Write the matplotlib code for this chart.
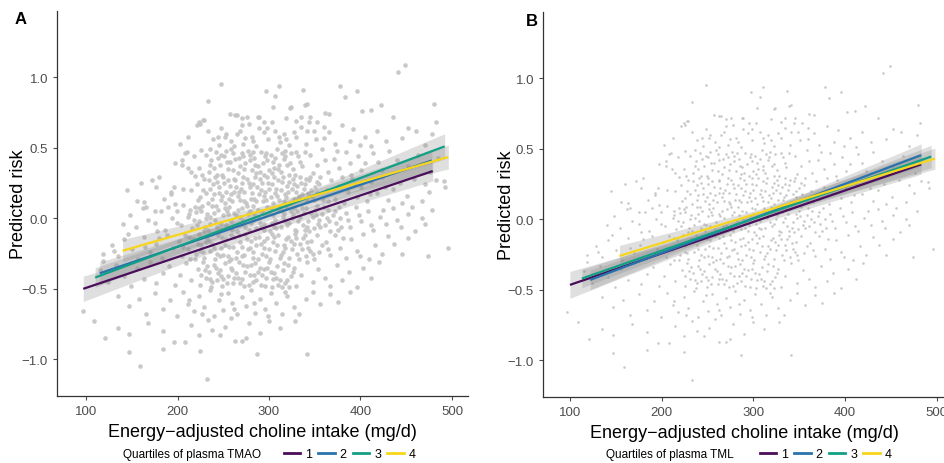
import matplotlib
matplotlib.use("Agg")
import matplotlib.pyplot as plt
from matplotlib.lines import Line2D

plt.rcParams['font.family'] = ['Liberation Sans', 'DejaVu Sans']

# ---- scatter data: (energy-adjusted choline intake, predicted risk) ----
scatter_points = [
    (248,.95),(311,.94),(297,.90),(337,.91),(378,.94),(396,.90),(441,1.04),(449,1.09),(307,.87),
    (233,.83),(304,.79),(324,.79),(341,.81),(383,.86),(422,.80),(411,.77),(480,.81),(323,.78),(339,.80),
    (257,.74),(263,.73),(270,.71),(276,.72),(289,.72),(319,.71),(345,.72),(361,.75),(288,.72),(228,.70),
    (366,.74),(402,.76),(436,.72),(265,.73),
    (225,.67),(482,.68),(452,.64),(461,.62),(221,.66),(270,.66),(278,.67),(295,.68),(303,.685),(330,.69),
    (335,.715),(353,.68),(252,.58),(239,.56),(265,.595),(281,.58),(289,.64),(294,.61),(307,.62),(316,.60),
    (327,.61),(335,.645),(341,.62),(351,.56),(360,.57),(366,.61),(224,.68),(229,.70),(210,.47),(226,.485),
    (380,.66),(392,.63),(405,.58),(418,.62),(428,.55),(445,.57),(470,.52),(478,.60),(372,.53),(388,.55),
    (399,.52),(412,.51),(245,.52),(258,.55),(272,.53),(286,.51),(299,.56),(312,.54),(322,.52),(340,.53),
    (233,.62),(248,.64),(212,.58),(203,.53),(360,.65),(344,.68),
    (253,.60),(268,.62),(283,.55),(298,.64),(311,.58),(274,.57),(262,.51),(244,.58),(319,.56),(330,.58),
    (349,.62),
    (197,.39),(205,.41),(205,.38),(211,.36),(215,.33),(219,.30),
    (231,.45),(237,.41),(242,.47),(246,.38),(251,.44),(255,.35),(259,.49),(263,.42),(266,.32),(270,.46),
    (274,.39),(277,.48),(281,.34),(284,.43),(288,.37),(291,.47),(295,.31),(298,.41),(302,.45),(305,.36),
    (309,.49),(313,.33),(316,.42),(320,.38),(324,.46),(328,.31),(332,.44),(336,.37),
    (234,.33),(240,.36),(249,.31),(257,.40),(261,.46),(268,.37),(279,.41),(286,.32),(293,.39),(300,.34),
    (307,.43),(311,.38),(318,.48),(326,.35),(334,.40),(339,.47),
    (244,.43),(253,.48),(272,.44),(282,.47),(296,.44),(303,.32),(314,.46),(322,.31),
    (236,.38),(243,.31),(248,.45),(254,.40),(261,.34),(267,.43),(273,.35),(279,.45),(285,.38),(290,.33),
    (297,.46),(304,.40),(310,.35),(317,.44),(323,.39),(330,.47),
    (345,.45),(352,.38),(358,.49),(364,.33),(371,.42),(377,.36),(384,.47),(390,.31),(397,.44),(405,.39),
    (414,.46),(423,.34),(431,.48),(440,.41),(452,.37),(463,.45),(476,.33),(485,.43),(348,.32),(361,.41),
    (374,.48),(388,.39),(401,.34),(419,.40),(218,.44),(224,.36),(208,.46),(236,.49),(227,.31),
    (156,.12),(163,.115),(166,.08),(177,.22),(196,.225),(193,.19),(193,.17),(206,.21),(215,.20),(197,.10),
    (206,.095),(145,.20),(172,.27),(185,.14),(180,.29),(160,.25),
    (221,.24),(225,.15),(229,.28),(233,.11),(236,.21),(240,.17),(243,.26),(247,.13),(250,.29),(253,.19),
    (257,.23),(260,.12),(263,.27),(266,.16),(269,.21),(272,.29),(275,.11),(278,.25),(281,.18),(284,.14),
    (287,.22),(290,.28),(293,.12),(296,.19),(299,.25),(302,.15),(305,.29),(308,.21),(311,.13),(314,.26),
    (317,.17),(320,.23),(323,.11),(326,.28),(329,.19),(332,.14),(335,.25),(338,.21),(341,.12),(344,.27),
    (347,.16),(350,.22),(353,.18),(356,.29),(359,.13),
    (222,.13),(228,.20),(234,.27),(238,.14),(245,.22),(249,.16),(255,.27),(258,.17),(264,.22),(268,.13),
    (273,.19),(276,.28),(283,.24),(286,.12),(292,.25),(295,.16),(300,.21),(304,.11),(310,.27),(313,.20),
    (319,.15),(322,.26),(327,.14),(331,.23),(336,.17),(340,.28),(346,.20),(349,.13),(355,.24),
    (231,.18),(241,.29),(252,.11),(262,.19),(271,.25),(280,.14),(289,.17),(298,.29),(307,.18),(316,.12),
    (325,.21),(334,.29),(343,.18),(352,.26),
    (239,.24),(245,.18),(251,.25),(256,.14),(262,.28),(267,.19),(273,.12),(279,.22),(285,.29),(291,.20),
    (297,.13),(303,.24),(309,.16),(315,.29),(321,.19),(327,.24),(333,.16),(339,.24),(345,.29),
    (363,.20),(368,.27),(372,.14),(377,.23),(382,.11),(386,.19),(391,.28),(396,.15),(401,.22),(407,.12),
    (412,.26),(418,.18),(424,.29),(430,.13),(436,.21),(443,.25),(451,.16),(459,.28),(467,.12),(475,.19),
    (483,.27),(491,.265),(492,.225),(365,.12),(380,.29),(394,.24),(410,.17),(427,.22),(445,.11),(470,.24),
    (175,.05),(182,.05),(199,.05),(175,-.03),(213,.03),(220,.045),(194,.00),(199,-.03),(148,.02),(155,-.06),
    (162,.07),(168,-.01),(186,-.08),(190,.08),(204,-.05),(140,-.04),(178,-.09),
    (212,.01),(216,-.07),(219,.08),(223,-.02),(226,.05),(229,-.09),(232,.03),(235,-.04),(238,.09),(241,-.01),
    (244,.06),(247,-.08),(250,.02),(253,-.05),(256,.08),(259,-.02),(262,.04),(265,-.09),(268,.01),(271,.07),
    (274,-.06),(277,.03),(280,-.03),(283,.09),(286,-.07),(289,.00),(292,.05),(295,-.04),(298,.08),(301,-.09),
    (304,.02),(307,-.01),(310,.06),(313,-.06),(316,.03),(319,.09),(322,-.03),(325,.00),(328,-.08),(331,.05),
    (334,.01),(337,-.05),(340,.07),(343,-.02),(346,.04),(349,-.07),(352,.09),(355,-.01),(358,.03),(361,-.05),
    (364,.06),(367,-.09),(370,.02),(373,-.03),(376,.08),(379,-.06),
    (214,.06),(221,-.05),(227,.09),(233,-.08),(240,.04),(246,-.03),(252,.07),(258,-.07),(264,.02),(270,-.04),
    (276,.09),(282,-.01),(288,.06),(294,-.08),(300,.04),(306,-.06),(312,.08),(318,-.02),(324,.05),(330,-.09),
    (336,.07),(342,-.06),(348,.01),(354,-.04),(360,.08),(366,-.02),(372,.05),(378,.00),
    (218,-.01),(231,.00),(243,-.06),(255,.03),(267,-.05),(279,.05),(291,-.06),(303,-.03),(315,.01),(327,.07),
    (339,-.08),(351,.02),(363,.00),(375,-.08),
    (224,.07),(230,-.06),(236,.01),(242,.09),(248,-.04),(254,.05),(260,-.08),(266,.06),(272,-.02),(278,-.08),
    (284,.03),(290,-.03),(296,.02),(302,.07),(308,-.07),(314,.05),(320,-.05),(326,.03),(332,-.02),(338,.04),
    (344,-.09),(350,.06),(356,-.06),
    (384,.04),(389,-.06),(395,.08),(401,-.02),(408,.05),(414,-.08),(421,.01),(428,-.04),(436,.07),(444,-.06),
    (452,.03),(460,-.09),(470,-.04),(467,.00),(478,.06),(386,-.01),(398,.02),(411,-.05),(425,.06),(440,-.01),
    (456,.08),
    (119,-.255),(119,-.305),(128,-.19),(135,-.27),(142,-.15),(150,-.22),(157,-.29),(163,-.13),(170,-.24),
    (176,-.18),(183,-.28),(189,-.12),(195,-.21),(146,-.11),(131,-.23),(165,-.20),(180,-.14),
    (202,-.16),(205,-.27),(208,-.12),(211,-.22),(214,-.29),(217,-.15),(220,-.25),(223,-.11),(226,-.19),
    (229,-.28),(232,-.14),(235,-.23),(238,-.18),(241,-.29),(244,-.12),(247,-.21),(250,-.26),(253,-.15),
    (256,-.20),(259,-.29),(262,-.13),(265,-.24),(268,-.17),(271,-.27),(274,-.11),(277,-.22),(280,-.16),
    (283,-.28),(286,-.19),(289,-.13),(292,-.25),(295,-.21),(298,-.14),(301,-.29),(304,-.17),(307,-.23),
    (310,-.12),(313,-.26),(316,-.19),(319,-.15),(322,-.28),(325,-.22),(328,-.11),(331,-.25),(334,-.18),
    (337,-.14),(340,-.27),(343,-.21),(346,-.16),(349,-.29),(352,-.12),(355,-.24),(358,-.19),
    (206,-.20),(213,-.13),(219,-.29),(225,-.23),(231,-.17),(237,-.11),(243,-.25),(249,-.14),(255,-.27),
    (261,-.20),(267,-.12),(273,-.26),(279,-.21),(285,-.14),(291,-.18),(297,-.27),(303,-.11),(309,-.19),
    (315,-.24),(321,-.13),(327,-.18),(333,-.29),(339,-.12),(345,-.23),
    (222,-.18),(228,-.24),(234,-.16),(240,-.21),(246,-.27),(252,-.19),(258,-.12),(264,-.28),(270,-.20),
    (276,-.15),(282,-.24),(288,-.29),(294,-.16),(300,-.22),(306,-.13),(312,-.28),(318,-.21),(324,-.16),
    (330,-.14),(336,-.22),(342,-.17),(348,-.25),
    (362,-.17),(367,-.26),(372,-.12),(378,-.21),(384,-.28),(390,-.15),(396,-.23),(403,-.11),(409,-.29),
    (416,-.19),(423,-.25),(430,-.125),(437,-.18),(445,-.255),(452,-.14),(474,-.27),(496,-.21),(365,-.22),
    (381,-.14),(399,-.27),
    (115,-.37),(124,-.45),(133,-.33),(141,-.41),(149,-.48),(156,-.35),(163,-.43),(170,-.31),(177,-.46),
    (184,-.39),(191,-.34),(197,-.47),(203,-.40),(209,-.32),(215,-.44),
    (222,-.36),(225,-.47),(228,-.31),(231,-.42),(234,-.38),(237,-.49),(240,-.33),(243,-.44),(246,-.37),
    (249,-.48),(252,-.32),(255,-.41),(258,-.35),(261,-.46),(264,-.39),(267,-.31),(270,-.43),(273,-.48),
    (276,-.34),(279,-.40),(282,-.45),(285,-.32),(288,-.38),(291,-.47),(294,-.36),(297,-.42),(300,-.31),
    (303,-.49),(306,-.39),(309,-.34),(312,-.44),(315,-.37),(318,-.46),(321,-.33),(324,-.41),(327,-.35),
    (330,-.48),
    (226,-.40),(232,-.34),(238,-.45),(244,-.39),(250,-.43),(256,-.30),(262,-.42),(268,-.46),(274,-.38),
    (280,-.33),(286,-.44),(292,-.40),(298,-.35),(304,-.43),(310,-.47),(316,-.32),(322,-.49),
    (230,-.37),(236,-.43),(242,-.35),(248,-.41),(254,-.46),(260,-.37),(266,-.42),(272,-.33),(278,-.47),
    (284,-.40),(290,-.35),(296,-.48),(302,-.38),(308,-.42),(314,-.49),(320,-.44),(326,-.38),
    (335,-.40),(341,-.31),(348,-.45),(354,-.36),(361,-.42),(367,-.48),(374,-.33),(380,-.44),(387,-.38),
    (396,-.485),(403,-.35),(412,-.42),(420,-.31),
    (135,-.55),(147,-.62),(158,-.57),(166,-.68),(175,-.53),(184,-.64),(192,-.58),(199,-.69),(206,-.52),
    (212,-.61),(218,-.66),(224,-.55),(229,-.63),(235,-.51),(240,-.69),(245,-.58),(250,-.65),(255,-.53),
    (260,-.60),(265,-.68),(270,-.56),(275,-.62),(280,-.51),(285,-.67),(290,-.57),(296,-.64),(302,-.53),
    (308,-.60),(314,-.68),(320,-.55),(327,-.63),(333,-.68),(340,-.57),(348,-.52),(356,-.61),(367,-.54),
    (375,-.59),(388,-.52),(213,-.58),(227,-.68),(248,-.54),(262,-.64),(284,-.60),(299,-.69),(318,-.52),
    (109,-.73),(135,-.775),(121,-.85),(147,-.82),(168,-.74),(184,-.80),(196,-.88),(208,-.88),(215,-.76),
    (224,-.83),(233,-.72),(246,-.83),(252,-.77),(263,-.87),(270,-.87),(278,-.74),(290,-.81),(300,-.73),
    (312,-.775),(328,-.73),(258,-.71),(238,-.79),(275,-.85),
    (97,-.66),(147,-.95),(159,-1.05),(184.5,-.93),(224.6,-.94),(232.6,-1.14),(286.5,-.965),(341,-.96),
]
choline_intake = [p[0] for p in scatter_points]
predicted_risk = [p[1] for p in scatter_points]

quartile_labels = ['1', '2', '3', '4']
quartile_colors = ['#4a0d5c', '#2873ae', '#12a084', '#f7d51a']

# Panel A (TMAO quartiles) fitted lines
tmao_x_start = [97, 115, 110, 140]
tmao_x_end = [479, 478, 492, 496]
tmao_y_start = [-0.50, -0.39, -0.42, -0.23]
tmao_y_end = [0.335, 0.41, 0.51, 0.435]
tmao_ci_start = [0.09, 0.08, 0.07, 0.08]
tmao_ci_mid = [0.03, 0.03, 0.03, 0.03]
tmao_ci_end = [0.07, 0.08, 0.09, 0.085]

# Panel B (TML quartiles) fitted lines
tml_x_start = [100, 122, 113, 154]
tml_x_end = [483, 483, 494, 498]
tml_y_start = [-0.465, -0.43, -0.42, -0.26]
tml_y_end = [0.39, 0.455, 0.445, 0.43]
tml_ci_start = [0.095, 0.07, 0.065, 0.075]
tml_ci_mid = [0.025, 0.025, 0.025, 0.025]
tml_ci_end = [0.07, 0.08, 0.08, 0.075]

x_ticks = [100, 200, 300, 400, 500]
y_ticks = [-1.0, -0.5, 0.0, 0.5, 1.0]

fig = plt.figure(figsize=(9.45, 4.64), dpi=100)
axA = fig.add_axes([57/945, 1-397/464, (468-57)/945, (397-12)/464])
axB = fig.add_axes([543/945, 1-398/464, (945-543)/945, (398-13)/464])

def draw_panel(ax, xs0, xs1, ys0, ys1, ci0, cim, ci1, msize, xlim, ylab_x):
    ax.scatter(choline_intake, predicted_risk, s=msize, color='#c4c4c4', alpha=0.9,
               linewidths=0, zorder=1)
    for i in range(4):
        xm = 300.0
        ym = ys0[i] + (ys1[i] - ys0[i]) * (xm - xs0[i]) / (xs1[i] - xs0[i])
        bx = [xs0[i], xm, xs1[i]]
        by = [ys0[i], ym, ys1[i]]
        hw = [ci0[i], cim[i], ci1[i]]
        ax.fill_between(bx, [b - h for b, h in zip(by, hw)], [b + h for b, h in zip(by, hw)],
                        color='#8c8c8c', alpha=0.28, linewidth=0, zorder=2)
    for i in range(4):
        ax.plot([xs0[i], xs1[i]], [ys0[i], ys1[i]], color=quartile_colors[i], lw=1.6,
                zorder=3 + i, solid_capstyle='butt')
    ax.set_xlim(*xlim)
    ax.set_ylim(-1.26, 1.47)
    ax.set_xticks(x_ticks)
    ax.set_xticklabels([str(t) for t in x_ticks])
    ax.set_yticks(y_ticks)
    ax.set_yticklabels(['\u22121.0', '\u22120.5', '0.0', '0.5', '1.0'])
    for s in ['top', 'right']:
        ax.spines[s].set_visible(False)
    for s in ['left', 'bottom']:
        ax.spines[s].set_color('#333333')
        ax.spines[s].set_linewidth(0.9)
    ax.tick_params(axis='both', colors='#4d4d4d', labelsize=9.5, length=3, width=0.8)
    ax.set_xlabel('Energy\u2212adjusted choline intake (mg/d)', fontsize=13, labelpad=4)
    ax.set_ylabel('Predicted risk', fontsize=13)
    ax.yaxis.set_label_coords(ylab_x, 0.5)

draw_panel(axA, tmao_x_start, tmao_x_end, tmao_y_start, tmao_y_end,
           tmao_ci_start, tmao_ci_mid, tmao_ci_end, 11, (68.3, 517.5), -0.073)
draw_panel(axB, tml_x_start, tml_x_end, tml_y_start, tml_y_end,
           tml_ci_start, tml_ci_mid, tml_ci_end, 3.5, (70.6, 509), -0.070)

fig.text(15/945, 1-19/464, 'A', fontsize=12, fontweight='bold', va='center', ha='left')
fig.text(526/945, 1-21/464, 'B', fontsize=12, fontweight='bold', va='center', ha='left')

handles = [Line2D([], [], color=c, lw=2) for c in quartile_colors]
for title, tx, lx in [('Quartiles of plasma TMAO', 123, 284), ('Quartiles of plasma TML', 606, 760)]:
    fig.text(tx/945, 1-455/464, title, fontsize=8.5, va='center', ha='left')
    fig.legend(handles, quartile_labels, loc='center left', bbox_to_anchor=(lx/945, 1-455/464),
               ncol=4, frameon=False, fontsize=9, handlelength=1.3, handletextpad=0.4,
               columnspacing=0.5, borderpad=0, borderaxespad=0)

fig.savefig('out.png', dpi=100)
